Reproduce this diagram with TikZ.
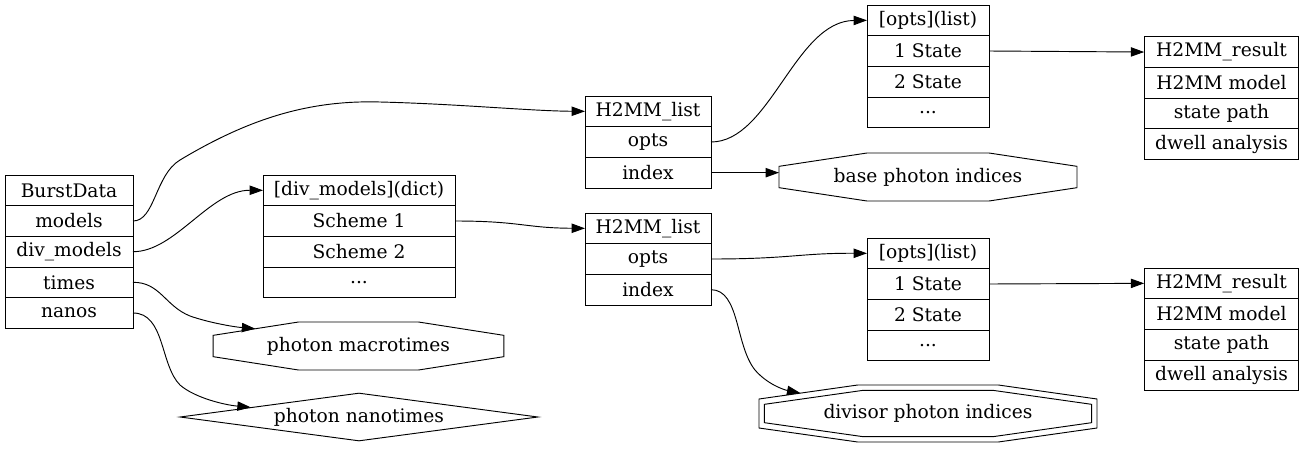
\documentclass[tikz,border=0pt]{standalone}
\usepackage{fontspec}
\setmainfont{DejaVu Serif}
\usetikzlibrary{positioning,shapes.geometric,arrows.meta}
% octagon round a node box: node, slant x, slant y, inset
\newcommand{\octline}[4]{%
  \draw ([xshift={#4+#2},yshift=-#4]#1.north west) -- ([xshift={-#4-#2},yshift=-#4]#1.north east)
    -- ([xshift=-#4,yshift={-#4-#3}]#1.north east) -- ([xshift=-#4,yshift={#4+#3}]#1.south east)
    -- ([xshift={-#4-#2},yshift=#4]#1.south east) -- ([xshift={#4+#2},yshift=#4]#1.south west)
    -- ([xshift=#4,yshift={#4+#3}]#1.south west) -- ([xshift=#4,yshift={-#4-#3}]#1.north west) -- cycle;}
\begin{document}
\begin{tikzpicture}[x=0.75pt,y=-0.75pt,line width=0.7pt,font=\fontsize{14pt}{16pt}\selectfont]
  \tikzset{cell/.style={draw,minimum width=#1,minimum height=23pt,inner sep=0pt,outer sep=0pt},
    box/.style={minimum width=#1,inner sep=0pt,outer sep=0pt},
    conn/.style={-{Triangle[length=10pt,width=7pt]}}}
  \useasboundingbox (0,0) rectangle (1306,450);
  % BurstData record
  \node[cell=96pt,anchor=north] (bd) at (69,175) {BurstData};
  \node[cell=96pt,below=0pt of bd] (bd-models) {models};
  \node[cell=96pt,below=0pt of bd-models] (bd-div) {div\_models};
  \node[cell=96pt,below=0pt of bd-div] (bd-times) {times};
  \node[cell=96pt,below=0pt of bd-times] (bd-nanos) {nanos};
  % div_models dict
  \node[cell=144pt,anchor=north] (dm) at (359,175) {[div\_models](dict)};
  \node[cell=144pt,below=0pt of dm] (dm-s1) {Scheme 1};
  \node[cell=144pt,below=0pt of dm-s1] (dm-s2) {Scheme 2};
  \node[cell=144pt,below=0pt of dm-s2] (dm-etc) {...};
  % H2MM_list records
  \node[cell=94.5pt,anchor=north] (hl1) at (648,96) {H2MM\_list};
  \node[cell=94.5pt,below=0pt of hl1] (hl1-opts) {opts};
  \node[cell=94.5pt,below=0pt of hl1-opts] (hl1-index) {index};
  \node[cell=94.5pt,anchor=north] (hl2) at (648,213) {H2MM\_list};
  \node[cell=94.5pt,below=0pt of hl2] (hl2-opts) {opts};
  \node[cell=94.5pt,below=0pt of hl2-opts] (hl2-index) {index};
  % opts lists
  \node[cell=91.5pt,anchor=north] (ol1) at (928,5) {[opts](list)};
  \node[cell=91.5pt,below=0pt of ol1] (ol1-s1) {1 State};
  \node[cell=91.5pt,below=0pt of ol1-s1] (ol1-s2) {2 State};
  \node[cell=91.5pt,below=0pt of ol1-s2] (ol1-etc) {...};
  \node[cell=91.5pt,anchor=north] (ol2) at (928,238) {[opts](list)};
  \node[cell=91.5pt,below=0pt of ol2] (ol2-s1) {1 State};
  \node[cell=91.5pt,below=0pt of ol2-s1] (ol2-s2) {2 State};
  \node[cell=91.5pt,below=0pt of ol2-s2] (ol2-etc) {...};
  % H2MM_result records
  \node[cell=116pt,anchor=north] (hr1) at (1221.5,36.7) {H2MM\_result};
  \node[cell=116pt,below=0pt of hr1] (hr1-model) {H2MM model};
  \node[cell=116pt,below=0pt of hr1-model] (hr1-path) {state path};
  \node[cell=116pt,below=0pt of hr1-path] (hr1-dwell) {dwell analysis};
  \node[cell=116pt,anchor=north] (hr2) at (1221.5,268) {H2MM\_result};
  \node[cell=116pt,below=0pt of hr2] (hr2-model) {H2MM model};
  \node[cell=116pt,below=0pt of hr2-model] (hr2-path) {state path};
  \node[cell=116pt,below=0pt of hr2-path] (hr2-dwell) {dwell analysis};
  % photon arrays
  \node[box=218pt,minimum height=36pt] (pmac) at (358.5,346) {photon macrotimes};
  \octline{pmac}{64pt}{10pt}{0pt}
  \node[draw,diamond,aspect=7.5,minimum width=268.5pt,minimum height=36pt,inner sep=0pt] (pnano) at (359,417) {photon nanotimes};
  \node[box=223.5pt,minimum height=36pt] (pbase) at (928,177) {base photon indices};
  \octline{pbase}{66pt}{10pt}{0pt}
  \node[box=253.5pt,minimum height=42.75pt] (pdiv) at (928,413.5) {divisor photon indices};
  \octline{pdiv}{74pt}{10.5pt}{0pt}
  \octline{pdiv}{74pt}{10.5pt}{4pt}
  % connectors
  \draw[conn] (bd-models.east) .. controls (155,221) and (155,175) .. (180,160)
    .. controls (250,118) and (310,100) .. (380,102)
    .. controls (460,104) and (530,111) .. (hl1.west);
  \draw[conn] (bd-div.east) .. controls (175,252) and (210,190) .. (dm.west);
  \draw[conn] (bd-times.east) .. controls (160,282) and (165,306) .. (190,316)
    .. controls (210,323) and (235,327) .. ([xshift=31.5pt,yshift=-5pt]pmac.north west);
  \draw[conn] (bd-nanos.east) .. controls (165,313) and (160,365) .. (180,385)
    .. controls (195,398) and (225,405) .. (pnano);
  \draw[conn] (dm-s1.east) .. controls (520,221) and (525,228) .. (hl2.west);
  \draw[conn] (hl1-opts.east) .. controls (770,142) and (795,21) .. (ol1.west);
  \draw[conn] (hl1-index.east) -- (hl1-index.east -| pbase.west);
  \draw[conn] (hl2-opts.east) .. controls (790,259) and (800,253) .. (ol2.west);
  \draw[conn] (hl2-index.east) .. controls (740,290) and (735,345) .. (755,370)
    .. controls (768,385) and (785,390) .. ([xshift=31pt,yshift=-6pt]pdiv.north west);
  \draw[conn] (ol1-s1.east) -- (hr1.west);
  \draw[conn] (ol2-s1.east) -- (hr2.west);
\end{tikzpicture}
\end{document}
